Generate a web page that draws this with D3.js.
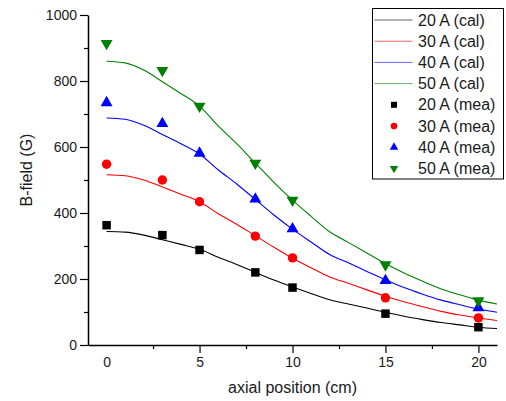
<!DOCTYPE html>
<html>
<head>
<meta charset="utf-8">
<script src="https://cdn.jsdelivr.net/npm/d3@7"></script>
<style>
  body { margin: 0; background: #fff; }
  svg { font-family: "Liberation Sans", Arial, sans-serif; }
</style>
</head>
<body>
<svg width="506" height="401"></svg>
<script>
// measured positions (cm)
const meaX = [0, 3, 5, 8, 10, 15, 20];
const mea20 = [363, 333, 288, 220, 174, 95, 54];
const mea30 = [548, 500, 434, 330, 264, 143, 82];
const mea40 = [734, 671, 581, 442, 352, 195, 113];
const mea50 = [914, 832, 724, 551, 439, 243, 134];

// calculated curves
const calX = [0, 1, 2, 3, 4, 5, 6, 7, 8, 9, 10, 11, 12, 13, 14, 15, 16, 17, 18, 19, 20, 21];
const cal20 = [344, 342, 333, 319, 305, 290, 266, 244, 220, 197, 176, 156, 137, 124, 112, 99, 87, 77, 68, 61, 54, 50];
const cal30 = [516, 513, 500, 479, 457, 434, 398, 366, 331, 296, 263, 234, 206, 187, 167, 148, 131, 116, 102, 91, 82, 74];
const cal40 = [688, 684, 666, 638, 610, 579, 531, 488, 441, 394, 351, 312, 274, 249, 223, 198, 174, 154, 136, 122, 109, 99];
const cal50 = [860, 855, 833, 798, 762, 724, 664, 610, 551, 493, 439, 390, 343, 311, 279, 247, 218, 193, 170, 152, 136, 124];

const currents = ["20 A", "30 A", "40 A", "50 A"];
const colors = ["#000000", "#ff0000", "#0000ff", "#008000"];
const xTicks = [0, 5, 10, 15, 20];
const yTicks = [0, 200, 400, 600, 800, 1000];

const svg = d3.select("svg");
const x = d3.scaleLinear().domain([-1, 21]).range([88, 497]);
const y = d3.scaleLinear().domain([0, 1000]).range([345, 15]);

// minor ticks
svg.append("g")
  .attr("transform", "translate(0,345)")
  .call(d3.axisBottom(x).tickValues([2.5, 7.5, 12.5, 17.5]).tickSize(4).tickFormat(""))
  .call(g => g.select(".domain").remove());
svg.append("g")
  .attr("transform", "translate(88,0)")
  .call(d3.axisLeft(y).tickValues([100, 300, 500, 700, 900]).tickSize(4).tickFormat(""))
  .call(g => g.select(".domain").remove());

// major axes
const xAxis = svg.append("g")
  .attr("transform", "translate(0,345)")
  .call(d3.axisBottom(x).tickValues(xTicks).tickSize(8).tickSizeOuter(0)
    .tickPadding(4).tickFormat(d3.format("d")));
xAxis.selectAll(".tick").filter(d => d === 0).select("line").remove();

const yAxis = svg.append("g")
  .attr("transform", "translate(88,0)")
  .call(d3.axisLeft(y).tickValues(yTicks).tickSize(8).tickSizeOuter(0)
    .tickPadding(3).tickFormat(d3.format("d")));

svg.selectAll(".domain").attr("stroke", "#000").attr("stroke-width", 1.5);
svg.selectAll(".tick line").attr("stroke", "#000").attr("stroke-width", 1.2);
svg.selectAll(".tick text").attr("font-size", 14).attr("fill", "#1a1a1a")
  .attr("font-family", "Liberation Sans, Arial, sans-serif");

// axis titles
svg.append("text")
  .attr("x", 292.5).attr("y", 393)
  .attr("text-anchor", "middle")
  .attr("font-size", 16).attr("fill", "#1a1a1a")
  .text("axial position (cm)");
svg.append("text")
  .attr("transform", "translate(32,170) rotate(-90)")
  .attr("text-anchor", "middle")
  .attr("font-size", 16).attr("fill", "#1a1a1a")
  .text("B-field (G)");

// lines
const calSeries = [cal20, cal30, cal40, cal50];
const meaSeries = [mea20, mea30, mea40, mea50];
const line = d3.line()
  .x((d, i) => x(calX[i]))
  .y(d => y(d))
  .curve(d3.curveMonotoneX);

const plot = svg.append("g");
calSeries.forEach((s, k) => {
  plot.append("path")
    .datum(s)
    .attr("fill", "none")
    .attr("stroke", colors[k])
    .attr("stroke-width", 1.1)
    .attr("d", line);
});

// symbols
const symbolTypes = [
  d3.symbolSquare, d3.symbolCircle, d3.symbolTriangle, d3.symbolTriangle
];
const symbolSizes = [72, 70, 62, 62];
const rotations = [0, 0, 0, 180];

meaSeries.forEach((s, k) => {
  const sym = d3.symbol().type(symbolTypes[k]).size(symbolSizes[k]);
  plot.selectAll(null)
    .data(s)
    .enter()
    .append("path")
    .attr("d", sym)
    .attr("fill", colors[k])
    .attr("transform", (d, i) =>
      `translate(${x(meaX[i])},${y(d)}) rotate(${rotations[k]})`);
});

// legend
const legend = svg.append("g");
legend.append("rect")
  .attr("x", 372.5).attr("y", 8.5)
  .attr("width", 131).attr("height", 170.5)
  .attr("fill", "#fff").attr("stroke", "#000").attr("stroke-width", 1);

const rowY = i => 20 + i * 21.2;
currents.forEach((c, k) => {
  legend.append("line")
    .attr("x1", 374.5).attr("x2", 412.5)
    .attr("y1", rowY(k)).attr("y2", rowY(k))
    .attr("stroke", colors[k]).attr("stroke-width", 1).attr("stroke-opacity", 0.6);
  legend.append("text")
    .attr("x", 418).attr("y", rowY(k) + 5.5)
    .attr("font-size", 16).attr("fill", "#1a1a1a")
    .text(c + " (cal)");
});
currents.forEach((c, k) => {
  const ry = rowY(k + 4);
  const sym = d3.symbol().type(symbolTypes[k]).size(symbolSizes[k] * 0.5);
  legend.append("path")
    .attr("d", sym)
    .attr("fill", colors[k])
    .attr("transform", `translate(394,${ry}) rotate(${rotations[k]})`);
  legend.append("text")
    .attr("x", 418).attr("y", ry + 5.5)
    .attr("font-size", 16).attr("fill", "#1a1a1a")
    .text(c + " (mea)");
});
</script>
</body>
</html>
